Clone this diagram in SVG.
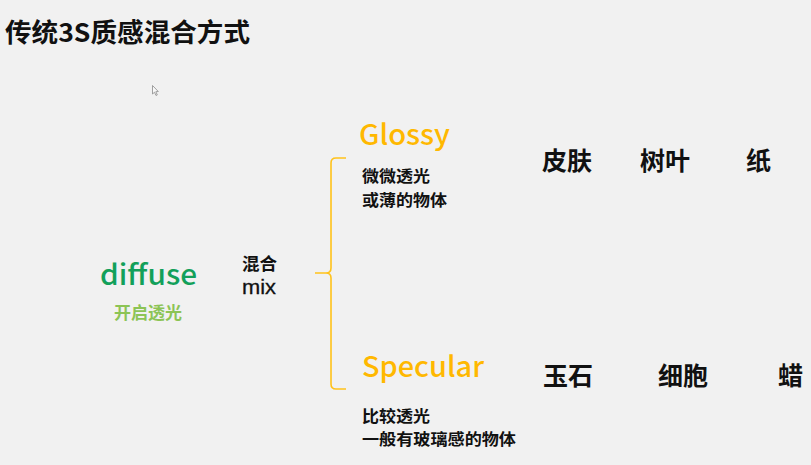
<svg xmlns="http://www.w3.org/2000/svg" width="811" height="465" viewBox="0 0 811 465">
<style>
.cjk{font-family:"Noto Sans CJK SC","Noto Sans",sans-serif;}
.lat{font-family:"Noto Sans CJK SC","Noto Sans",sans-serif;font-weight:500;}
.title{font-size:26px;font-weight:bold;fill:#111;}
.head{font-size:28px;}
.orange{fill:#ffb800;}
.desc{font-size:16px;font-weight:bold;fill:#111;}
.item{font-size:25px;font-weight:bold;fill:#111;}
.brace{fill:none;stroke:#ffc21a;stroke-width:1.6;}
</style>
<rect width="811" height="465" fill="#f1f1f1"/>
<text class="cjk title" x="5" y="42" textLength="245" lengthAdjust="spacingAndGlyphs">传统3S质感混合方式</text>
<path d="M152.5,85.5 L152.5,94 L154.5,92.2 L156,95.5 L157.3,94.9 L155.8,91.7 L158.3,91.5 Z" fill="#f8f8f8" stroke="#8a8a8a" stroke-width="0.8"/>
<g id="diffuse">
<text class="lat" x="100" y="284.5" font-size="28" fill="#12a05a" textLength="97" lengthAdjust="spacingAndGlyphs">diffuse</text>
<text class="cjk" x="114" y="319" font-size="17" font-weight="bold" fill="#8cc455">开启透光</text>
</g>
<g id="mix">
<text class="cjk" x="242" y="270" font-size="17.5" font-weight="bold" fill="#111">混合</text>
<text x="242" y="294" font-family="'Liberation Sans',Arial,sans-serif" font-size="20.5" fill="#111" stroke="#111" stroke-width="0.3" textLength="34" lengthAdjust="spacingAndGlyphs">mix</text>
</g>
<g id="connectors">
<path class="brace" d="M346,158 L336,158 Q331,158 331,163 L331,268 Q331,273 326,273 L315,273 M326,273 Q331,273 331,278 L331,384 Q331,389 336,389 L346,389"/>
</g>
<g id="glossy">
<text class="lat head orange" x="359" y="145" textLength="91" lengthAdjust="spacingAndGlyphs">Glossy</text>
<text class="cjk desc" x="362" y="182" textLength="68" lengthAdjust="spacingAndGlyphs">微微透光</text>
<text class="cjk desc" x="362" y="205.5" textLength="85" lengthAdjust="spacingAndGlyphs">或薄的物体</text>
</g>
<g id="specular">
<text class="lat head orange" x="362" y="377" font-size="29" textLength="122" lengthAdjust="spacingAndGlyphs">Specular</text>
<text class="cjk desc" x="362" y="421.5" textLength="68" lengthAdjust="spacingAndGlyphs">比较透光</text>
<text class="cjk desc" x="362" y="445" textLength="154" lengthAdjust="spacingAndGlyphs">一般有玻璃感的物体</text>
</g>
<g id="glossy-items">
<text class="cjk item" x="542" y="170">皮肤</text>
<text class="cjk item" x="640" y="170">树叶</text>
<text class="cjk item" x="746" y="170">纸</text>
</g>
<g id="specular-items">
<text class="cjk item" x="543" y="385">玉石</text>
<text class="cjk item" x="658" y="385">细胞</text>
<text class="cjk item" x="778" y="385">蜡</text>
</g>
</svg>
